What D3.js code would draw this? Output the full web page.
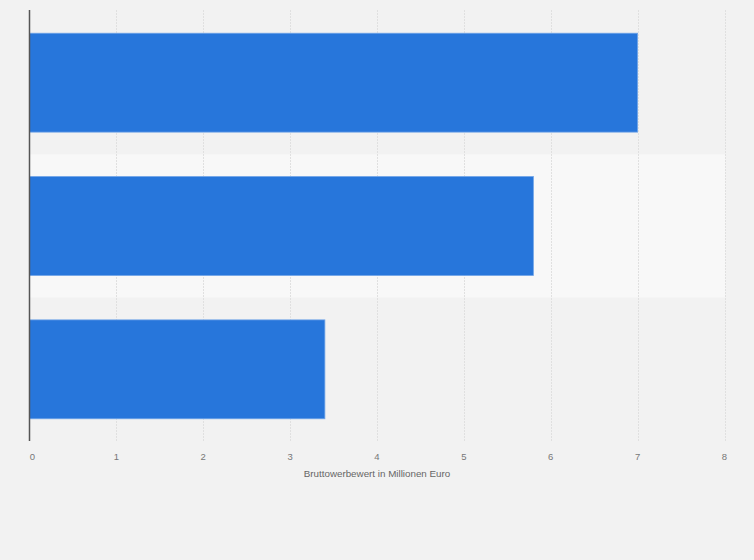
<!DOCTYPE html>
<html><head><meta charset="utf-8">
<script src="https://cdn.jsdelivr.net/npm/d3@7"></script>
<style>body{margin:0;background:#f2f2f2;}svg{display:block;font-family:"Liberation Sans",Arial,sans-serif;}</style>
</head><body>
<svg id="c" width="754" height="560"></svg>
<script>
const categories = ["Kategorie 1", "Kategorie 2", "Kategorie 3"];
const values = [7.0, 5.8, 3.4];
const xTicks = [0, 1, 2, 3, 4, 5, 6, 7, 8];
const axisTitle = "Bruttowerbewert in Millionen Euro";

const svg = d3.select("#c");
svg.append("rect").attr("width",754).attr("height",560).attr("fill","#f2f2f2");
const x = d3.scaleLinear().domain([0,8]).range([29.5,724.5]);
const y = d3.scaleBand().domain(categories).range([11,441]).padding(0);

// alternating bands
svg.selectAll("rect.band").data(categories).enter().append("rect")
  .attr("class","band")
  .attr("x",x(0)).attr("width",x(8)-x(0)+1)
  .attr("y",d=>y(d)).attr("height",y.bandwidth())
  .attr("fill",(d,i)=>i%2===1?"#f8f8f8":"#f2f2f2");

// gridlines
svg.selectAll("line.grid").data(xTicks.filter(t=>t>0)).enter().append("line")
  .attr("class","grid")
  .attr("x1",d=>Math.round(x(d))+0.5).attr("x2",d=>Math.round(x(d))+0.5)
  .attr("y1",10).attr("y2",441)
  .attr("stroke","#e0e0e0").attr("stroke-width",1).attr("stroke-dasharray","2,1");

// bars
const inset = y.step()*0.155;
svg.selectAll("rect.bar").data(values).enter().append("rect")
  .attr("class","bar")
  .attr("x",x(0)).attr("width",(d)=>x(d)-x(0))
  .attr("y",(d,i)=>y(categories[i])+inset).attr("height",y.bandwidth()-2*inset)
  .attr("fill","#2776db").attr("stroke","#6fa4e8").attr("stroke-width",0.8);

// axis line
svg.append("line").attr("x1",29.5).attr("x2",29.5).attr("y1",10).attr("y2",441)
  .attr("stroke","#555").attr("stroke-width",1.5);

// tick labels
svg.selectAll("text.tick").data(xTicks).enter().append("text")
  .attr("class","tick")
  .attr("x",d=>d===0?x(d)+3:x(d)).attr("y",460)
  .attr("text-anchor","middle").attr("font-size",9.5).attr("fill","#777")
  .text(d=>d);

svg.append("text").attr("x",377).attr("y",477).attr("text-anchor","middle")
  .attr("font-size",9.8).attr("fill","#666").text(axisTitle);
</script>
</body></html>
